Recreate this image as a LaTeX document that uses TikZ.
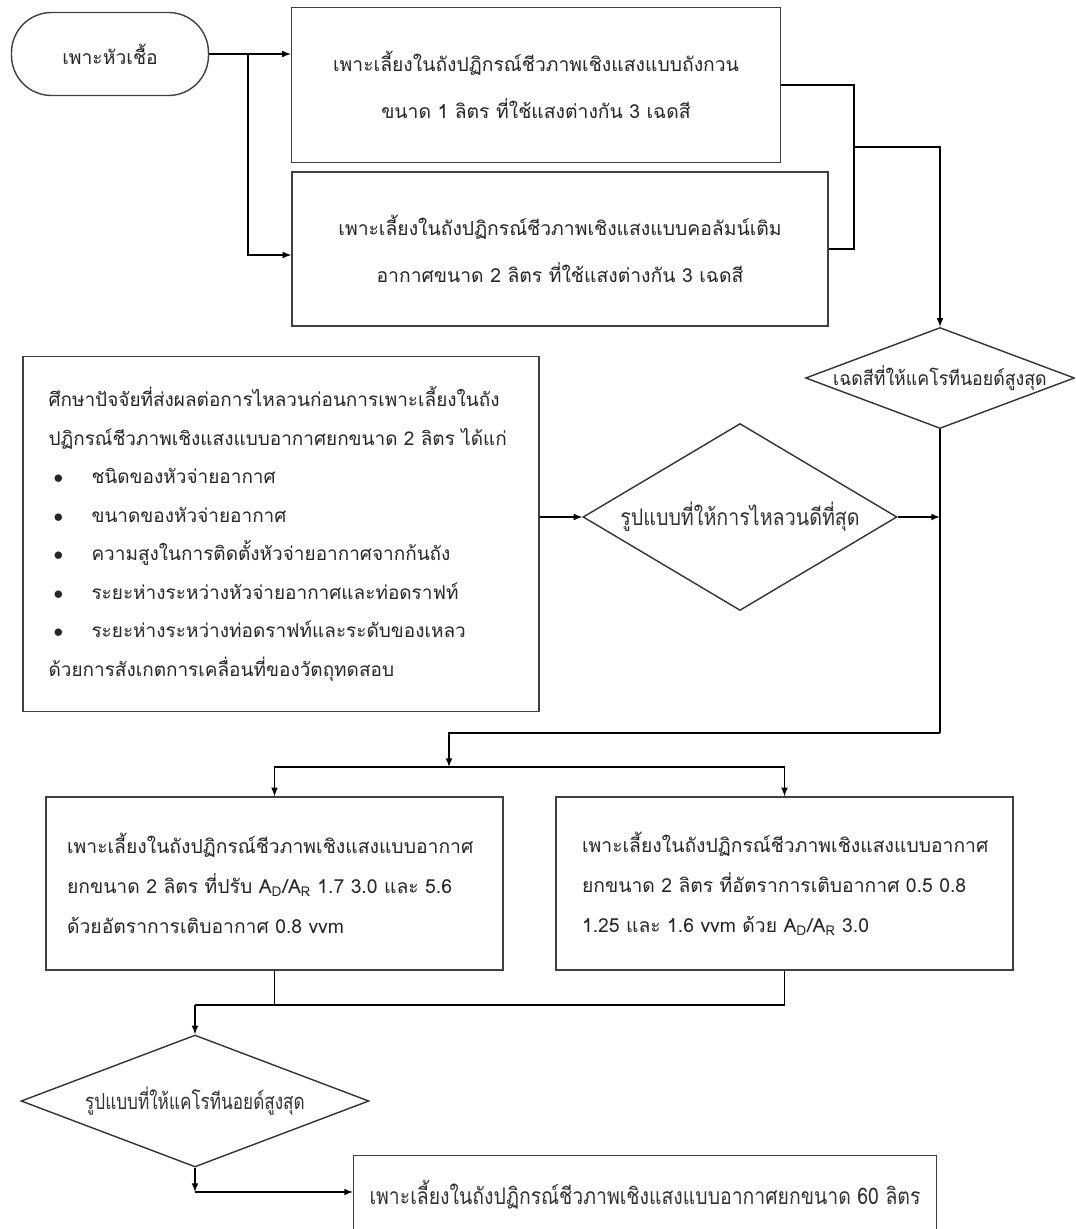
\documentclass[tikz,border=0pt]{standalone}
\usepackage{fontspec}
\setmainfont[Script=Thai]{Loma}
\usetikzlibrary{shapes.geometric, positioning}

\begin{document}
\begin{tikzpicture}[x=0.02cm, y=-0.02cm, >=latex, line width=0.7pt,
  box/.style={draw=black!75, line width=0.8pt, text=black!85, align=center, inner sep=0pt},
  decision/.style={draw=black!80, diamond, line width=0.8pt, inner sep=0pt}]
  \clip (0,0) rectangle (1075,1229);
  \fill[white] (0,0) rectangle (1075,1229);

  % Starter culture
  \node[box, rounded corners=0.8cm, minimum width=3.94cm, minimum height=1.66cm,
        font=\fontsize{11}{13}\selectfont] (start) at (110,54) {เพาะหัวเชื้อ};

  % Two light-shade cultures
  \node[box, minimum width=9.78cm, minimum height=3.1cm, font=\fontsize{11}{26.5}\selectfont]
    (tank1) at (536,85) {เพาะเลี้ยงในถังปฏิกรณ์ชีวภาพเชิงแสงแบบถังกวน\\ขนาด 1 ลิตร ที่ใช้แสงต่างกัน 3 เฉดสี};
  \node[box, minimum width=10.72cm, minimum height=3.08cm, font=\fontsize{11}{26.5}\selectfont]
    (tank2) at (560,249) {เพาะเลี้ยงในถังปฏิกรณ์ชีวภาพเชิงแสงแบบคอลัมน์เติม\\อากาศขนาด 2 ลิตร ที่ใช้แสงต่างกัน 3 เฉดสี};

  \coordinate (split) at (248,54);
  \coordinate (split2) at (248,255);
  \draw[->] (start.east) -- (split) -- (split -| tank1.west);
  \draw[->] (split) -- (split2) -- (split2 -| tank2.west);

  % Best shade
  \node[decision, minimum width=5.38cm, minimum height=2.02cm] (shade) at (940,378) {};
  \node[text=black!85, font=\fontsize{11}{13}\selectfont] (shadetxt) at (shade)
    {\scalebox{0.92}[1]{เฉดสีที่ให้แคโรทีนอยด์สูงสุด}};

  \coordinate (merge) at (854,147);
  \draw (tank1.east) -| (merge);
  \draw (tank2.east) -| (merge);
  \draw[->] (merge) -| (shade.north);

  % Mixing study
  \node[box, minimum width=10.32cm, minimum height=7.1cm, text width=9.3cm, align=left,
        font=\fontsize{10.8}{21.9}\selectfont] (study) at (281,534)
    {ศึกษาปัจจัยที่ส่งผลต่อการไหลวนก่อนการเพาะเลี้ยงในถัง\\
     ปฏิกรณ์ชีวภาพเชิงแสงแบบอากาศยกขนาด 2 ลิตร ได้แก่\\
     \makebox[0.86cm][l]{\hspace{0.1cm}$\bullet$}ชนิดของหัวจ่ายอากาศ\\
     \makebox[0.86cm][l]{\hspace{0.1cm}$\bullet$}ขนาดของหัวจ่ายอากาศ\\
     \makebox[0.86cm][l]{\hspace{0.1cm}$\bullet$}ความสูงในการติดตั้งหัวจ่ายอากาศจากก้นถัง\\
     \makebox[0.86cm][l]{\hspace{0.1cm}$\bullet$}ระยะห่างระหว่างหัวจ่ายอากาศและท่อดราฟท์\\
     \makebox[0.86cm][l]{\hspace{0.1cm}$\bullet$}ระยะห่างระหว่างท่อดราฟท์และระดับของเหลว\\
     ด้วยการสังเกตการเคลื่อนที่ของวัตถุทดสอบ};

  \node[decision, minimum width=6.28cm, minimum height=3.74cm] (mixing) at (740,517) {};
  \node[text=black!80, font=\fontsize{13}{15}\selectfont] (mixingtxt) at (mixing)
    {\scalebox{0.86}[1]{รูปแบบที่ให้การไหลวนดีที่สุด}};
  \draw[->] (study.east |- mixing.west) -- (mixing.west);

  \coordinate (join) at (940,733);
  \coordinate (fork) at (449,767);
  \draw (shade.south) -- (join);
  \draw[->] (mixing.east) -- (mixing.east -| join);
  \draw[->] (join) -| (fork);

  % Airlift 2 L cultures
  \node[box, minimum width=9.14cm, minimum height=3.46cm, text width=8.3cm, align=left,
        font=\fontsize{11}{22.8}\selectfont] (ratio) at (274.5,883.5)
    {เพาะเลี้ยงในถังปฏิกรณ์ชีวภาพเชิงแสงแบบอากาศ\\
     ยกขนาด 2 ลิตร ที่ปรับ A\textsubscript{D}/A\textsubscript{R} 1.7 3.0 และ 5.6\\
     ด้วยอัตราการเติบอากาศ 0.8 vvm};
  \node[box, minimum width=9.14cm, minimum height=3.46cm, text width=8.1cm, align=left,
        font=\fontsize{11}{22.8}\selectfont] (aeration) at (784.5,883.5)
    {เพาะเลี้ยงในถังปฏิกรณ์ชีวภาพเชิงแสงแบบอากาศ\\
     ยกขนาด 2 ลิตร ที่อัตราการเติบอากาศ 0.5 0.8\\
     1.25 และ 1.6 vvm ด้วย A\textsubscript{D}/A\textsubscript{R} 3.0};
  \draw[->] (fork) -| (ratio.north);
  \draw[->] (fork) -| (aeration.north);

  \coordinate (collect) at (195,1005);
  \draw (ratio.south) |- (collect);
  \draw (aeration.south) |- (collect);

  % Best condition and scale-up
  \node[decision, minimum width=6.96cm, minimum height=2.64cm] (best) at (195,1101) {};
  \node[text=black!80, font=\fontsize{12.5}{15}\selectfont] (besttxt) at (best)
    {\scalebox{0.78}[1]{รูปแบบที่ให้แคโรทีนอยด์สูงสุด}};
  \draw[->] (collect) -- (best.north);

  \node[box, anchor=north, minimum width=11.66cm, minimum height=3cm] (scaleup) at (645,1155) {};
  \node[text=black!80, font=\fontsize{13}{15}\selectfont] (scaleuptxt) at (645,1195)
    {\scalebox{0.85}[1]{เพาะเลี้ยงในถังปฏิกรณ์ชีวภาพเชิงแสงแบบอากาศยกขนาด 60 ลิตร}};
  \coordinate (turn) at (195,1192);
  \draw[->] (best.south) -- (turn);
  \draw[->] (turn) -- (turn -| scaleup.west);
\end{tikzpicture}
\end{document}
